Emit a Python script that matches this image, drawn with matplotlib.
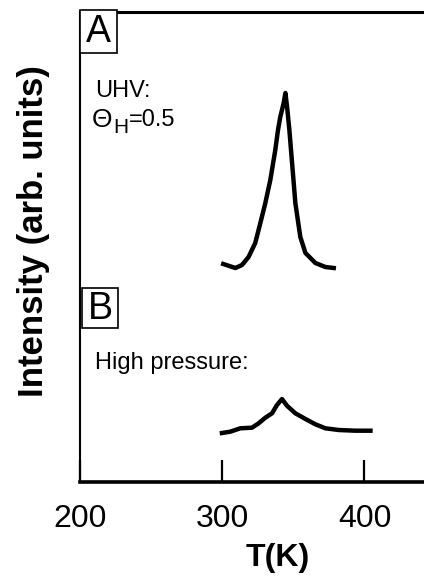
import matplotlib
matplotlib.use("Agg")
from matplotlib import pyplot as plt
from matplotlib.patches import Rectangle

# Curve A: UHV, theta_H = 0.5
temp_a = [300.7, 309.2, 313.9, 318.5, 323.2, 326.8, 330.3, 333.8, 337.3, 339.2, 340.8, 343.2, 344.4,
          345.6, 347.2, 349.1, 351.4, 354.9, 358.5, 365.5, 372.5, 378.4]
intensity_a = [218, 214, 217, 225, 239, 259, 279, 302, 332, 352, 365, 379, 389,
               375, 352, 319, 279, 245, 229, 219, 215, 214]

# Curve B: high pressure
temp_b = [299.8, 305.6, 312.7, 320.9, 325.6, 330.3, 335.0, 338.5, 342.0, 345.5, 351.4, 358.5,
          365.5, 372.5, 381.9, 393.7, 404.2]
intensity_b = [49, 50.3, 53.7, 54.3, 58.7, 64.3, 68.7, 77, 83, 76.3, 68.7, 63,
               57.7, 53.7, 52, 51.3, 51.3]

x_ticks = [200, 300, 400]

plt.rcParams['font.family'] = ['Liberation Sans', 'DejaVu Sans']

W, H = 424, 576
fig = plt.figure(figsize=(W / 100, H / 100), dpi=100)
# axes runs past the right edge of the figure, as in the cropped original
ax = fig.add_axes([80 / W, 94 / H, 394 / W, 470 / H])


def fx(px):
    # pixel column -> axes fraction
    return (px - 80) / 394


def fy(py):
    # pixel row -> axes fraction
    return (482 - py) / 470


ax.plot(temp_a, intensity_a, color='black', lw=3.2, solid_joinstyle='round')
ax.plot(temp_b, intensity_b, color='black', lw=3.2, solid_joinstyle='round')

ax.set_xlim(200, 477)
ax.set_ylim(0, 470)
ax.set_xticks(x_ticks)
ax.set_yticks([])
ax.tick_params(axis='x', direction='in', length=16, width=1.6, labelsize=23, pad=16)

ax.spines['left'].set_linewidth(1.5)
ax.spines['bottom'].set_linewidth(2.6)
ax.spines['top'].set_linewidth(2.2)
ax.spines['right'].set_visible(False)

ax.set_xlabel('T(K)', fontsize=23, fontweight='bold')
ax.xaxis.set_label_coords(fx(277.5), fy(543))
ax.set_ylabel('Intensity (arb. units)', fontsize=25, fontweight='bold')
ax.yaxis.set_label_coords(fx(50), fy(231))

# panel letters in boxes
for letter, (x0, y0, x1, y1) in [('A', (80, 10, 117, 53)), ('B', (82, 288, 118, 328))]:
    ax.add_patch(Rectangle((fx(x0), fy(y1)), fx(x1) - fx(x0), fy(y0) - fy(y1),
                           transform=ax.transAxes, facecolor='white', edgecolor='black',
                           lw=1.2, clip_on=False, zorder=3))
    ax.text(fx((x0 + x1) / 2), fy((y0 + y1) / 2 + 1), letter, transform=ax.transAxes,
            fontsize=27, ha='center', va='center', zorder=4)

ax.text(fx(95), fy(97), 'UHV:', transform=ax.transAxes, fontsize=17, ha='left', va='baseline')

# Theta_H=0.5, built from pieces so the subscript stays near full size
theta = ax.text(fx(92), fy(127), '\u0398', transform=ax.transAxes, fontsize=19,
                ha='left', va='baseline')
ax.annotate('H', xy=(1, 0), xycoords=theta, xytext=(0.5, -1), textcoords='offset points',
            fontsize=15, ha='left', va='baseline')
ax.annotate('=0.5', xy=(1, 0), xycoords=theta, xytext=(11.5, 4), textcoords='offset points',
            fontsize=17, ha='left', va='baseline')

ax.text(fx(95), fy(369), 'High pressure:', transform=ax.transAxes, fontsize=17, ha='left', va='baseline')

fig.savefig('out.png', dpi=100)
